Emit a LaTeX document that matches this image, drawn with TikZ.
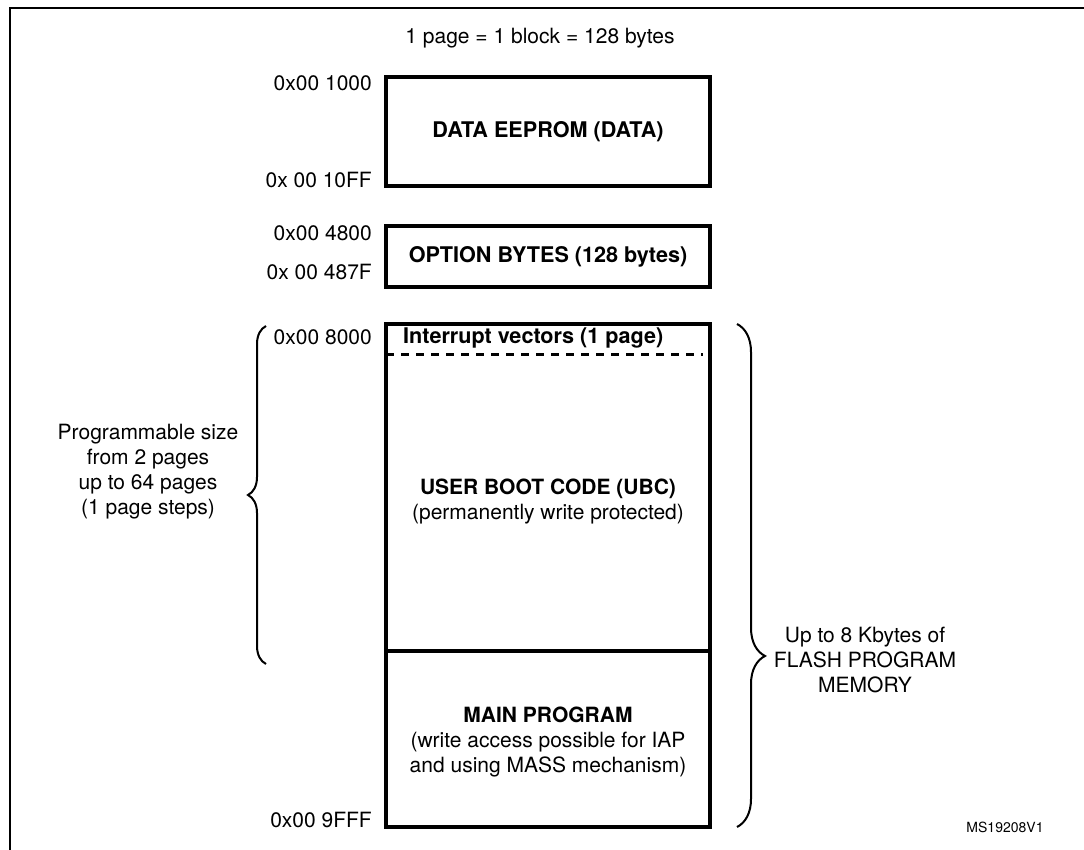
\documentclass[tikz,border=0pt]{standalone}
\usepackage{fontspec}
\setmainfont{TeX Gyre Heros}
\usepackage{tikz}
\usetikzlibrary{decorations.pathreplacing}
\tikzstyle{block} = [draw, line width=3.3pt, inner sep=0pt, outer sep=0pt, anchor=north west]
\tikzstyle{addr} = [anchor=east, inner sep=0pt]
\tikzstyle{bracket} = [draw, line width=2pt, decorate]

\begin{document}
\begin{tikzpicture}[x=1pt, y=-1pt, font=\fontsize{21}{25}\selectfont]
\tikzstyle{ann} = [align=center, inner sep=0pt]
\tikzstyle{head} = [ann, font=\fontsize{21.6}{25}\selectfont\bfseries]
\useasboundingbox (0,0) rectangle (1084,850);
\draw[line width=2.5pt] (10,850) |- (1084,8);
\node[ann] (note) at (540,38) {1 page = 1 block = 128 bytes};
% memory blocks
\node[block, minimum width=324pt, minimum height=109pt] (1) at (386,77) {};
\node[block, minimum width=324pt, minimum height=61pt] (2) at (386,226) {};
\node[block, minimum width=324pt, minimum height=327pt] (3) at (386,324) {};
\node[block, minimum width=324pt, minimum height=176pt] (4) at (386,651) {};
\draw[line width=3pt, dash pattern=on 8pt off 7pt]
  ([yshift=-30pt]3.north west) -- ([yshift=-30pt,xshift=-7pt]3.north east);
\node[head] (t1) at (1.center) {DATA EEPROM (DATA)};
\node[head] (t2) at (2.center) {OPTION BYTES (128 bytes)};
\node[head, anchor=west] (iv) at (403,338) {Interrupt vectors (1 page)};
\node[ann] (ubc) at (548,502) {\textbf{USER BOOT CODE (UBC)}\\(permanently write protected)};
\node[ann] (mp) at (548,742) {\textbf{MAIN PROGRAM}\\(write access possible for IAP\\and using MASS mechanism)};
% addresses
\node[addr] (a1) at (372,83) {0x00 1000};
\node[addr] (a2) at (372,180) {0x 00 10FF};
\node[addr] (a3) at (372,233) {0x00 4800};
\node[addr] (a4) at (372,272) {0x 00 487F};
\node[addr] (a5) at (372,337) {0x00 8000};
\node[addr] (a6) at (372,820) {0x00 9FFF};
% braces
\coordinate (lt) at (266,326);
\coordinate (lb) at (266,664);
\draw[bracket, decoration={brace, amplitude=18pt}] (lb) -- (lt);
\node[ann] (size) at (148,472) {Programmable size\\from 2 pages\\up to 64 pages\\(1 page steps)};
\coordinate (rt) at (737,324);
\coordinate (rb) at (737,827);
\draw[bracket, decoration={brace, amplitude=28pt, aspect=0.66}] (rt) -- (rb);
\node[ann] (flash) at (865,660) {Up to 8 Kbytes of\\FLASH PROGRAM\\MEMORY};
\node[ann, font=\fontsize{14}{16}\selectfont] (ms) at (1005,827) {MS19208V1};
\end{tikzpicture}
\end{document}
